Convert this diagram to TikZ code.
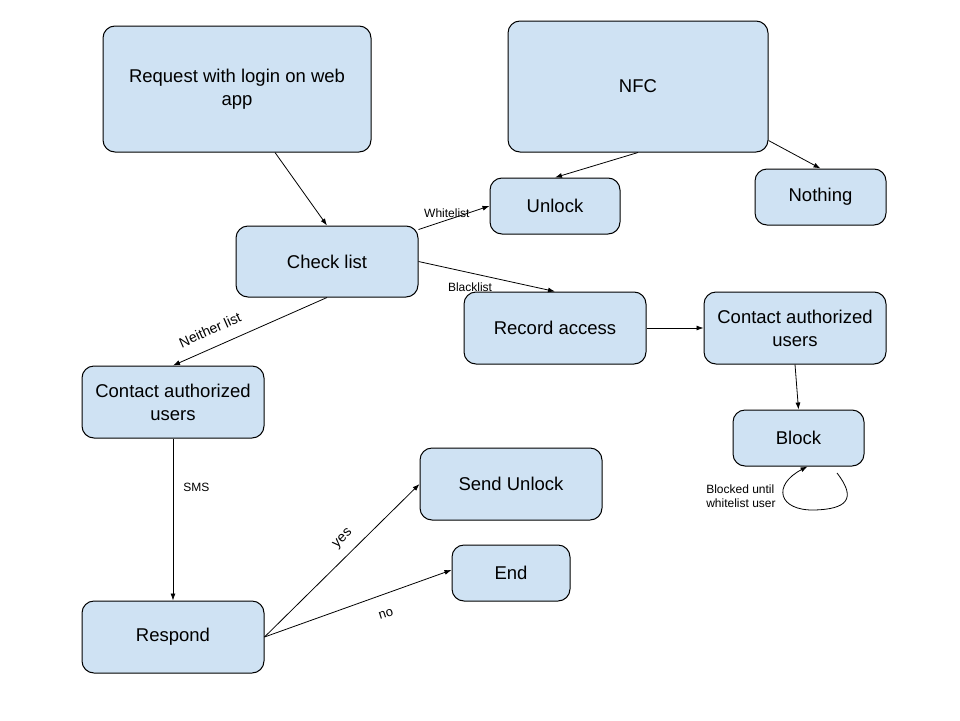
\documentclass[tikz,border=0pt]{standalone}
\usepackage{fontspec}
\setmainfont{Liberation Sans}
\usepackage{tikz}
\usetikzlibrary{
	positioning,
	arrows.meta
}

\tikzset{
	box/.style={draw=black, fill=boxblue, rounded corners=12pt, line width=1pt,
		align=center, font=\fontsize{18.5}{23}\selectfont},
	lbl/.style={font=\fontsize{12}{14}\selectfont, inner sep=2pt},
	biglbl/.style={font=\fontsize{14}{16}\selectfont, inner sep=1pt}
}
\definecolor{boxblue}{HTML}{CFE2F3}

\begin{document}
\begin{tikzpicture}[x=1pt, y=-1pt, >={Latex[length=7pt,width=5pt]}, line width=0.8pt]
		\useasboundingbox (0,0) rectangle (960,720);
		\draw
			node[box,minimum width=268pt,minimum height=126pt] (req)   at (237,89)    {Request with login on web\\app}
			node[box,minimum width=260pt,minimum height=131pt] (nfc)   at (638,86.5)  {NFC}
			node[box,minimum width=130pt,minimum height=56pt]  (unl)   at (555,206)   {Unlock}
			node[box,minimum width=131pt,minimum height=56pt]  (noth)  at (820.5,197) {Nothing}
			node[box,minimum width=182pt,minimum height=71pt]  (chk)   at (327,261.5) {Check list}
			node[box,minimum width=182pt,minimum height=72pt]  (rec)   at (555,328)   {Record access}
			node[box,minimum width=182pt,minimum height=72pt]  (conr)  at (795,328)   {Contact authorized\\users}
			node[box,minimum width=182pt,minimum height=72pt]  (conl)  at (173,402)   {Contact authorized\\users}
			node[box,minimum width=131pt,minimum height=56pt]  (blk)   at (798.5,438) {Block}
			node[box,minimum width=182pt,minimum height=72pt]  (send)  at (511,484)   {Send Unlock}
			node[box,minimum width=118pt,minimum height=56pt]  (fin)   at (511,573)   {End}
			node[box,minimum width=182pt,minimum height=72pt]  (resp)  at (173,637)   {Respond}

			([xshift=38pt]req.south) edge[->] (chk.north)
			(nfc.south) edge[->] (unl.north)
			([yshift=-54pt]nfc.east) edge[->] (noth.north)
			([yshift=-4pt]chk.north east) edge[->] node[lbl,pos=.4,above] {Whitelist} (unl.west)
			(chk.east) edge[->] (rec.north)
			(chk.south) edge[->] (conl.north)
			(rec.east) edge[->] (conr.west)
			(conr.south) edge[->] (blk.north)
			(conl.south) edge[->] node[lbl,pos=.3,right=8pt] {SMS} (resp.north)
			(resp.east) edge[->] (send.west)
			(resp.east) edge[->] ([yshift=3pt]fin.west)
		;
		% labels beside the slanted lines
		\node[lbl]                (blklbl) at (470,287) {Blacklist};
		\node[biglbl,rotate=24]   (neilbl) at (210,330) {Neither list};
		\node[biglbl,rotate=44]   (yeslbl) at (343,539) {yes};
		\node[biglbl,rotate=18,font=\fontsize{13}{15}\selectfont] (nolbl) at (386,614) {no};
		% loop under Block
		\coordinate (loop) at (837,473);
		\draw[->] (loop) .. controls (858,500) and (845,509) .. (815,510)
			.. controls (778,511) and (772,485) .. ([xshift=9pt]blk.south);
		\node[lbl,align=left,anchor=east] (blktxt) at (778,496) {Blocked until\\whitelist user};
    \end{tikzpicture}
\end{document}
